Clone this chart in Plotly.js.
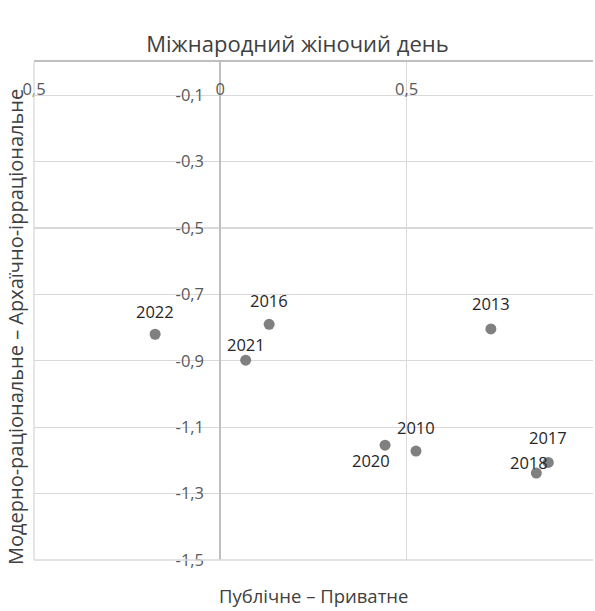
<!DOCTYPE html>
<html>
<head>
<meta charset="utf-8">
<script src="https://cdn.plot.ly/plotly-3.0.1.min.js"></script>
<style>html,body{margin:0;padding:0;background:#fff}#chart{width:595px;height:611px}</style>
</head>
<body>
<div id="chart"></div>
<script>
// Data
const years = ["2022", "2016", "2021", "2013", "2020", "2010", "2017", "2018"];
const publicPrivate = [-0.175, 0.131, 0.068, 0.726, 0.442, 0.525, 0.880, 0.848];
const modernArchaic = [-0.820, -0.790, -0.898, -0.804, -1.154, -1.172, -1.206, -1.238];
const xTickVals = [-0.5, 0, 0.5, 1];
const xTickText = ["0,5", "0", "0,5", "1"];
const yTickVals = [-0.1, -0.3, -0.5, -0.7, -0.9, -1.1, -1.3, -1.5];
const yTickText = ["-0,1", "-0,3", "-0,5", "-0,7", "-0,9", "-1,1", "-1,3", "-1,5"];

// Label offsets (pixels) – style only
const labelShift = {
  "2022": [0, 23], "2016": [0, 24], "2021": [0, 16], "2013": [0, 25],
  "2020": [-14, -15], "2010": [0, 24], "2017": [0, 25], "2018": [-7, 11]
};

const xRange = [-0.5, 1];
const yRange = [-1.5, 0];
const font = "'Open Sans', 'Noto Sans', sans-serif";

const trace = {
  type: "scatter",
  mode: "markers",
  x: publicPrivate,
  y: modernArchaic,
  marker: {size: 11, color: "#808080"},
  hoverinfo: "skip",
  showlegend: false
};

const annotations = years.map((yr, i) => ({
  x: publicPrivate[i], y: modernArchaic[i], xref: "x", yref: "y",
  text: yr, showarrow: false, xanchor: "center", yanchor: "middle",
  xshift: labelShift[yr][0], yshift: labelShift[yr][1],
  font: {family: font, size: 16.5, color: "#262626"}
}));

annotations.push({
  xref: "paper", yref: "paper", x: 0, y: 0.5, xshift: -19, yshift: -16,
  text: "Модерно-раціональне – Архаїчно-ірраціональне", textangle: -90,
  showarrow: false, xanchor: "center", yanchor: "middle",
  font: {family: font, size: 20, color: "#404040"}
});
annotations.push({
  xref: "paper", yref: "paper", x: 0.5, y: 0, yshift: -35,
  text: "Публічне – Приватне",
  showarrow: false, xanchor: "center", yanchor: "middle",
  font: {family: font, size: 18.5, color: "#404040"}
});

const yAxisPos = (0 - xRange[0]) / (xRange[1] - xRange[0]);

const layout = {
  width: 595, height: 611,
  margin: {l: 34, r: 2, t: 62, b: 51},
  paper_bgcolor: "#fff", plot_bgcolor: "#fff",
  title: {
    text: "Міжнародний жіночий день",
    x: 0.5, xref: "container", xanchor: "center",
    y: 1 - 44 / 611, yref: "container", yanchor: "middle",
    font: {family: font, size: 22, color: "#404040"}
  },
  xaxis: {
    range: xRange, side: "top", tickmode: "array",
    tickvals: xTickVals, ticktext: xTickText,
    ticks: "", ticklabelstandoff: -42,
    showgrid: true, gridcolor: "#d9d9d9", gridwidth: 1.3,
    zeroline: false, showline: true, linecolor: "#bfbfbf", linewidth: 2,
    tickfont: {family: font, size: 16.5, color: "#595959"},
    automargin: false, fixedrange: true
  },
  yaxis: {
    range: yRange, anchor: "free", position: yAxisPos,
    tickmode: "array", tickvals: yTickVals, ticktext: yTickText,
    ticks: "", ticklabelstandoff: 12,
    showgrid: true, gridcolor: "#d9d9d9", gridwidth: 1.3,
    zeroline: false, showline: true, linecolor: "#bfbfbf", linewidth: 2,
    tickfont: {family: font, size: 16.5, color: "#595959"},
    automargin: false, fixedrange: true
  },
  shapes: [
    {type: "line", xref: "paper", yref: "paper", x0: 0, x1: 1, y0: 0, y1: 0,
     line: {color: "#d9d9d9", width: 1.3}},
    {type: "line", xref: "paper", yref: "paper", x0: 0, x1: 0, y0: 0, y1: 1,
     line: {color: "#d9d9d9", width: 1.3}}
  ],
  annotations: annotations
};

Plotly.newPlot("chart", [trace], layout, {displayModeBar: false, staticPlot: true});
</script>
</body>
</html>
